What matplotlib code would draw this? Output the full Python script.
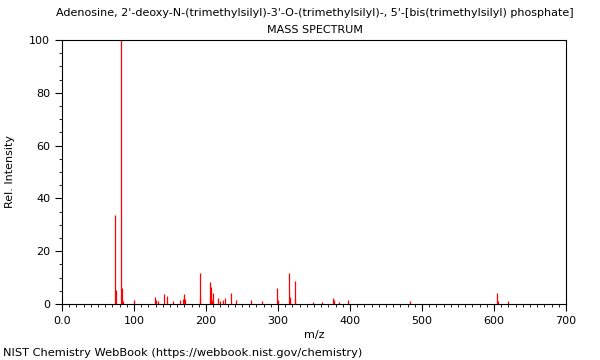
import matplotlib
matplotlib.use("Agg")
import matplotlib.pyplot as plt
from matplotlib.ticker import MultipleLocator, FuncFormatter

mz = [73, 75, 82, 83, 85, 100, 129, 131, 134, 141, 146, 154, 164, 168, 169, 171,
      191, 192, 205, 206, 207, 208, 210, 217, 220, 224, 226, 235, 242, 263, 278,
      299, 300, 315, 316, 317, 323, 324, 348, 361, 377, 378, 385, 397, 484,
      604, 605, 619]
intensity = [33.7, 5.3, 100.0, 6.0, 1.2, 1.7, 2.6, 1.5, 1.0, 3.8, 3.0, 1.0, 1.5, 1.8, 3.8, 1.8,
             11.7, 2.5, 2.6, 8.2, 6.6, 1.5, 4.0, 2.1, 1.0, 1.5, 2.2, 4.2, 1.6, 1.6, 1.1,
             6.1, 1.6, 11.6, 2.7, 1.5, 8.6, 2.0, 0.7, 0.7, 2.3, 1.4, 0.6, 1.5, 1.0,
             4.0, 1.0, 1.2]

title = "Adenosine, 2'-deoxy-N-(trimethylsilyl)-3'-O-(trimethylsilyl)-, 5'-[bis(trimethylsilyl) phosphate]"
subtitle = "MASS SPECTRUM"
xlabel = "m/z"
ylabel = "Rel. Intensity"
footer = "NIST Chemistry WebBook (https://webbook.nist.gov/chemistry)"

plt.rcParams['font.family'] = ['DejaVu Sans']
fig = plt.figure(figsize=(6, 3.6), dpi=100)
ax = fig.add_axes([62/600, 1-304/360, (566-62)/600, (304-40)/360])

ax.vlines(mz, 0, intensity, colors='#ff0000', linewidth=0.9)

ax.set_xlim(0, 700)
ax.set_ylim(0, 100)
ax.xaxis.set_major_locator(MultipleLocator(100))
ax.xaxis.set_minor_locator(MultipleLocator(10))
ax.yaxis.set_major_locator(MultipleLocator(20))
ax.yaxis.set_minor_locator(MultipleLocator(5))
ax.xaxis.set_major_formatter(FuncFormatter(lambda v, p: "0.0" if v == 0 else f"{int(v)}"))
ax.tick_params(axis='both', which='major', direction='out', length=5, width=0.8, labelsize=8)
ax.tick_params(axis='both', which='minor', direction='out', length=2.5, width=0.6)
for s in ax.spines.values():
    s.set_linewidth(0.8)

ax.set_xlabel(xlabel, fontsize=8, labelpad=3)
ax.set_ylabel(ylabel, fontsize=8, labelpad=10)
fig.text(314.5/600, 1-13/360, title, ha='center', va='center', fontsize=8)
fig.text(314.5/600, 1-30/360, subtitle, ha='center', va='center', fontsize=8)
fig.text(3/600, 1-353/360, footer, ha='left', va='center', fontsize=8.2)

fig.savefig("out.png", dpi=100)
